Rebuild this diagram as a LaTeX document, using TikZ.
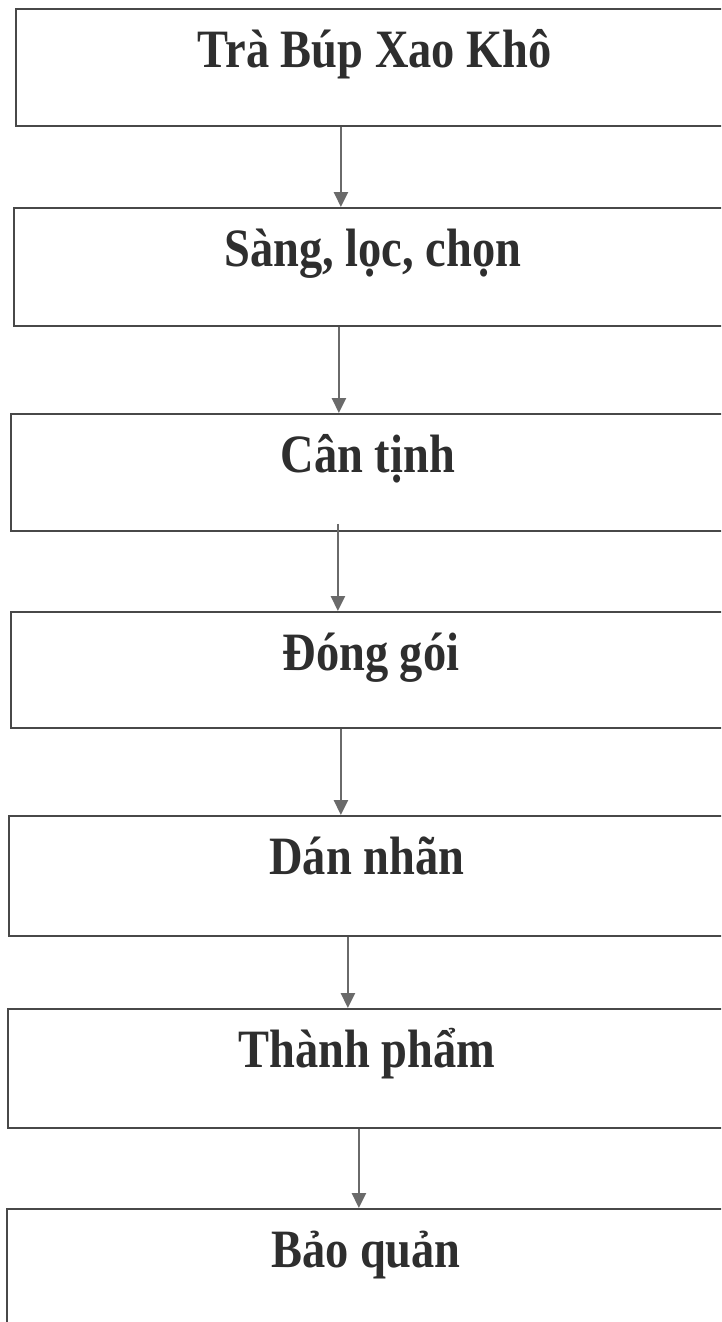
\documentclass[tikz,border=0pt]{standalone}
\usepackage{fontspec}
\setmainfont{Liberation Serif}[FakeStretch=0.86]
\usetikzlibrary{arrows.meta}
\definecolor{boxline}{HTML}{484848}
\definecolor{arrowgray}{HTML}{6A6A6A}
\definecolor{txt}{HTML}{2E2E2E}
\tikzset{
  stepbox/.style={draw=boxline, line width=1.8pt, rectangle, anchor=north west,
    inner xsep=0pt, inner ysep=0pt, text=txt,
    font=\fontsize{54}{60}\selectfont\bfseries},
  flow/.style={draw=arrowgray, line width=2.6pt,
    -{Triangle[length=15pt,width=14pt]}, color=arrowgray}
}
\newcommand{\mkbox}[6]{% name, left, top, width, height, text
  \node[stepbox, minimum width=#4pt, minimum height=#5pt,
        text height=59pt, text depth=#5pt-59pt] (#1) at (#2,#3) {#6};}
\begin{document}
\begin{tikzpicture}[x=1pt,y=-1pt]
\useasboundingbox (0,0) rectangle (721,1322);
\fill[white] (0,0) rectangle (721,1322);
\clip (0,0) rectangle (721,1322);
\mkbox{b1}{15}{8}{718}{117}{Trà Búp Xao Khô}
\mkbox{b2}{13}{207}{718}{118}{Sàng, lọc, chọn}
\mkbox{b3}{10}{413}{714}{117}{Cân tịnh}
\mkbox{b4}{10}{611}{720}{116}{Đóng gói}
\mkbox{b5}{8}{815}{716}{120}{Dán nhãn}
\mkbox{b6}{7}{1008}{718}{119}{Thành phẩm}
\mkbox{b7}{6}{1208}{718}{130}{Bảo quản}
\draw[flow] ([xshift=-34pt]b1.south) coordinate (s1) -- (s1 |- b2.north);
\draw[flow] ([xshift=-34pt]b2.south) coordinate (s2) -- (s2 |- b3.north);
\draw[flow] ([xshift=-30pt,yshift=8pt]b3.south) coordinate (s3) -- (s3 |- b4.north);
\draw[flow] ([xshift=-30pt]b4.south) coordinate (s4) -- (s4 |- b5.north);
\draw[flow] ([xshift=-19pt]b5.south) coordinate (s5) -- (s5 |- b6.north);
\draw[flow] ([xshift=-8pt]b6.south) coordinate (s6) -- (s6 |- b7.north);
\end{tikzpicture}
\end{document}
